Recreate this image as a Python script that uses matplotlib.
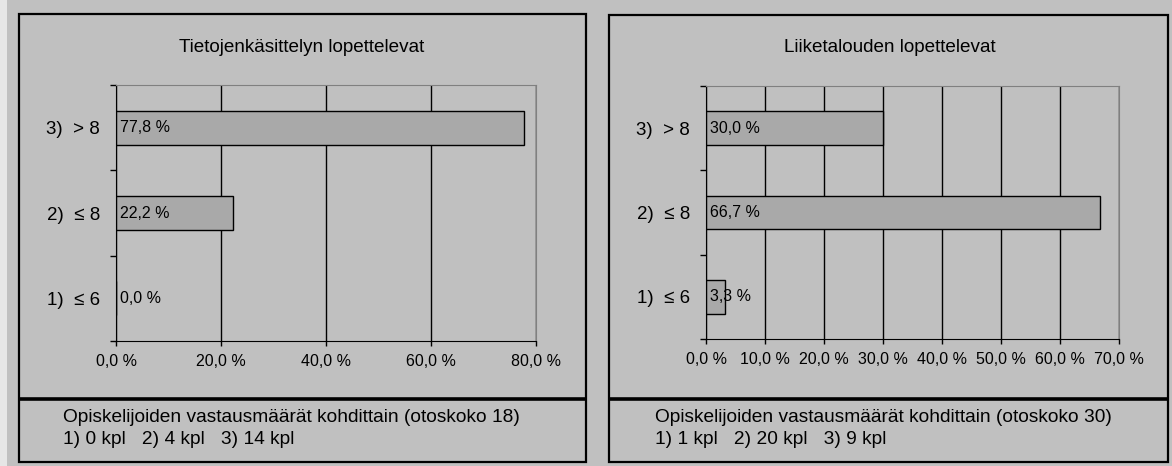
import matplotlib
matplotlib.use("Agg")
import matplotlib.pyplot as plt
from matplotlib.patches import Rectangle
from matplotlib.ticker import FuncFormatter

plt.rcParams['font.family'] = ['Liberation Sans', 'DejaVu Sans']

# data
categories = ['1)  ≤ 6', '2)  ≤ 8', '3)  > 8']
left_title = 'Tietojenkäsittelyn lopettelevat'
left_values = [0.0, 22.2, 77.8]
left_counts = [0, 4, 14]
left_xmax = 80
left_ticks = [0, 20, 40, 60, 80]

right_title = 'Liiketalouden lopettelevat'
right_values = [3.3, 66.7, 30.0]
right_counts = [1, 20, 9]
right_xmax = 70
right_ticks = [0, 10, 20, 30, 40, 50, 60, 70]

footer_head = 'Opiskelijoiden vastausmäärät kohdittain (otoskoko {})'

W, H = 1172, 466
BG = '#c0c0c0'
BAR = '#a9a9a9'

fig = plt.figure(figsize=(W / 100, H / 100), dpi=100, facecolor=BG)

# background layer in pixel coordinates
bg = fig.add_axes([0, 0, 1, 1])
bg.set_xlim(0, W)
bg.set_ylim(H, 0)
bg.axis('off')
bg.add_patch(Rectangle((0, 0), 7, H, facecolor='#e6e6e6', edgecolor='none'))


def pct(v, pos=None):
    return f"{v:.1f} %".replace('.', ',')


def panel(px0, py0, px1, py1, plot, title, title_x, values, counts, xmax, ticks, foot_x):
    # frame + footer divider
    bg.add_patch(Rectangle((px0, py0), px1 - px0, py1 - py0, facecolor=BG,
                           edgecolor='black', lw=1.6))
    bg.plot([px0, px1], [399, 399], color='black', lw=2.6, solid_capstyle='butt')
    bg.text(title_x, 52, title, ha='center', va='baseline', fontsize=13.6)
    bg.text(foot_x, 422, footer_head.format(sum(counts)), ha='left',
            va='baseline', fontsize=13.8)
    line2 = '   '.join(f"{i + 1}) {c} kpl" for i, c in enumerate(counts))
    bg.text(foot_x, 444, line2, ha='left', va='baseline', fontsize=13.8)

    x0, y0, x1, y1 = plot
    ax = fig.add_axes([x0 / W, 1 - y1 / H, (x1 - x0) / W, (y1 - y0) / H])
    ax.set_facecolor('none')
    ypos = list(range(len(categories)))
    ax.barh(ypos, values, height=0.4, color=BAR, edgecolor='black', lw=1, zorder=2)
    for y, v in zip(ypos, values):
        ax.annotate(pct(v), (0, y), xytext=(3, 0), textcoords='offset points',
                    ha='left', va='center', fontsize=11.5, zorder=3)
    ax.set_xlim(0, xmax)
    ax.set_ylim(-0.5, len(categories) - 0.5)
    ax.set_xticks(ticks)
    ax.xaxis.set_major_formatter(FuncFormatter(pct))
    ax.set_yticks(ypos, categories)
    ax.set_yticks([i - 0.5 for i in range(len(categories) + 1)], minor=True)
    ax.tick_params(axis='y', which='major', length=0, pad=11.5, labelsize=13.5)
    ax.tick_params(axis='y', which='minor', length=4.5, width=1, direction='out')
    ax.tick_params(axis='x', length=3.6, width=1, direction='out', pad=5.5,
                   labelsize=11.5)
    ax.xaxis.grid(True, color='black', lw=1)
    ax.set_axisbelow(True)
    for s in ('top', 'right'):
        ax.spines[s].set_color('#808080')
    for s in ('left', 'bottom'):
        ax.spines[s].set_color('black')
    return ax


panel(19, 14, 586, 462, (116, 85, 536, 341), left_title, 302,
      left_values, left_counts, left_xmax, left_ticks, 63)
panel(609, 15, 1168, 462, (706, 86, 1119, 339), right_title, 890,
      right_values, right_counts, right_xmax, right_ticks, 655)

fig.savefig('out.png', dpi=100, facecolor=BG)
